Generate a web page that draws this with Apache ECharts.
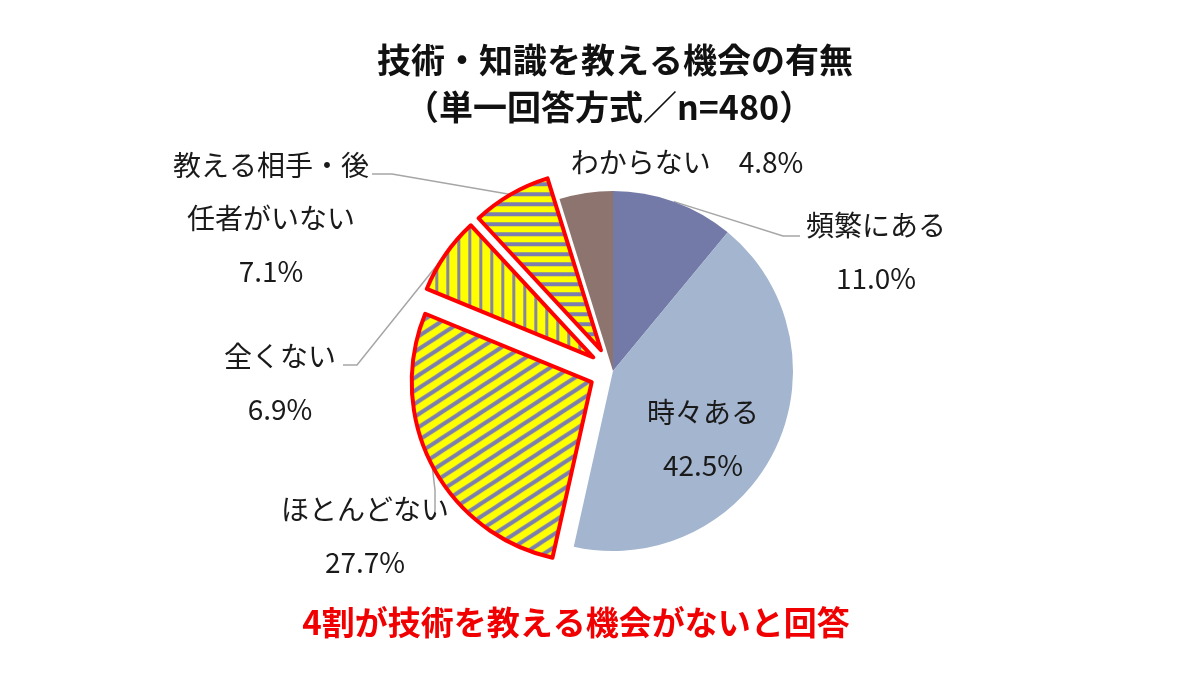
<!DOCTYPE html>
<html><head><meta charset="utf-8">
<script src="https://cdn.jsdelivr.net/npm/echarts@6/dist/echarts.min.js"></script>
<style>html,body{margin:0;padding:0;background:#fff}#c{width:1200px;height:678px}</style>
</head><body><div id="c"></div>
<script>
// ---- data ----
const categories = ['頻繁にある', '時々ある', 'ほとんどない', '全くない', '教える相手・後任者がいない', 'わからない'];
const values = [11.0, 42.5, 27.7, 6.9, 7.1, 4.8];
const labelNames = ['頻繁にある', '時々ある', 'ほとんどない', '全くない', '教える相手・後\n任者がいない', 'わからない'];
const explodedFlags = [false, false, true, true, true, false];
const titleLines = ['技術・知識を教える機会の有無', '（単一回答方式／n=480）'];
const footerText = '4割が技術を教える機会がないと回答';

// ---- styles ----
const FONT = "'Noto Sans CJK JP', 'Noto Sans', sans-serif";
const YELLOW = '#FFFF00', STRIPE = '#7C7FAE';
const CENTER = [613, 371], RADIUS = 180, OFFSET = 24;

function makePattern(type) {
  const c = document.createElement('canvas');
  const ctx = c.getContext('2d');
  if (type === 'diag') {
    const W = 20, H = 13;
    c.width = W; c.height = H;
    ctx.fillStyle = YELLOW; ctx.fillRect(0, 0, W, H);
    ctx.strokeStyle = STRIPE; ctx.lineWidth = 4;
    for (let k = -2; k <= 2; k++) {
      ctx.beginPath();
      ctx.moveTo(-W, 2 * H + k * H);
      ctx.lineTo(2 * W, -H + k * H);
      ctx.stroke();
    }
  } else if (type === 'vert') {
    const W = 11, H = 11;
    c.width = W; c.height = H;
    ctx.fillStyle = YELLOW; ctx.fillRect(0, 0, W, H);
    ctx.fillStyle = '#85869F'; ctx.fillRect(4, 0, 3, H);
  } else {
    const W = 10, H = 10;
    c.width = W; c.height = H;
    ctx.fillStyle = YELLOW; ctx.fillRect(0, 0, W, H);
    ctx.fillStyle = STRIPE; ctx.fillRect(0, 3, W, 4);
  }
  return { image: c, repeat: 'repeat' };
}

const sliceStyles = [
  { color: '#747AA8' },
  { color: '#A3B5CF' },
  { color: makePattern('diag'), borderColor: '#FF0000', borderWidth: 4 },
  { color: makePattern('vert'), borderColor: '#FF0000', borderWidth: 4 },
  { color: makePattern('horiz'), borderColor: '#FF0000', borderWidth: 4 },
  { color: '#8D746F' }
];

// label placement (layout only)
const labelPlace = [
  { x: 876, y: 252, line: [[783, 236], [800, 236]] },
  { x: 703, y: 439, line: null },
  { x: 365, y: 536, line: [[435, 490], [435, 517]] },
  { x: 280, y: 383, line: [[357, 365], [343, 365]] },
  { x: 271, y: 218, line: [[392, 174], [372, 174]] },
  { x: 687, y: 162, line: null }
];

// visual slices
const sliceData = categories.map((name, i) => ({
  name: name,
  value: values[i],
  selected: explodedFlags[i],
  itemStyle: sliceStyles[i],
  select: { itemStyle: sliceStyles[i] }
}));

// label carrier (transparent, not exploded)
const labelData = categories.map((name, i) => {
  const item = { name: name, value: values[i] };
  if (!labelPlace[i].line) item.labelLine = { show: false };
  return item;
});

const chart = echarts.init(document.getElementById('c'), null, { renderer: 'canvas' });
chart.setOption({
  animation: false,
  backgroundColor: '#ffffff',
  graphic: [
    { type: 'text', silent: true,
      style: { x: 615, y: 60, text: titleLines[0], font: 'bold 34px ' + FONT, fill: '#111', textAlign: 'center', textVerticalAlign: 'middle' } },
    { type: 'text', silent: true,
      style: { x: 609, y: 107, text: titleLines[1], font: 'bold 34px ' + FONT, fill: '#111', textAlign: 'center', textVerticalAlign: 'middle' } },
    { type: 'text', silent: true,
      style: { x: 576, y: 622, text: footerText, font: 'bold 33px ' + FONT, fill: '#F00000', textAlign: 'center', textVerticalAlign: 'middle' } }
  ],
  series: [{
    type: 'pie',
    center: CENTER,
    radius: RADIUS,
    startAngle: 90,
    clockwise: true,
    selectedMode: 'multiple',
    selectedOffset: OFFSET,
    emphasis: { disabled: true },
    label: { show: false },
    labelLine: { show: false },
    data: sliceData
  }, {
    type: 'pie',
    center: CENTER,
    radius: RADIUS,
    startAngle: 90,
    clockwise: true,
    silent: true,
    selectedMode: false,
    avoidLabelOverlap: false,
    emphasis: { disabled: true },
    itemStyle: { color: 'rgba(0,0,0,0)', borderWidth: 0 },
    label: {
      show: true,
      fontSize: 28,
      fontFamily: FONT,
      color: '#1a1a1a',
      lineHeight: 53,
      align: 'center',
      formatter: function (p) {
        const pct = values[p.dataIndex].toFixed(1) + '%';
        if (p.dataIndex === 5) return labelNames[5] + '　' + pct;
        return labelNames[p.dataIndex] + '\n' + pct;
      }
    },
    labelLine: { show: true, length: 10, length2: 10, lineStyle: { color: '#A6A6A6', width: 1.5 } },
    labelLayout: function (params) {
      const i = params.dataIndex;
      const pl = labelPlace[i];
      const res = { x: pl.x, y: pl.y, align: 'center', verticalAlign: 'middle' };
      if (pl.line && params.labelLinePoints) {
        let p0 = params.labelLinePoints[0].slice();
        if (explodedFlags[i]) {
          const dx = p0[0] - CENTER[0], dy = p0[1] - CENTER[1];
          const len = Math.sqrt(dx * dx + dy * dy) || 1;
          p0 = [p0[0] + dx / len * OFFSET, p0[1] + dy / len * OFFSET];
        }
        res.labelLinePoints = [p0, pl.line[0], pl.line[1]];
      }
      return res;
    },
    data: labelData
  }]
});
</script>
</body></html>
